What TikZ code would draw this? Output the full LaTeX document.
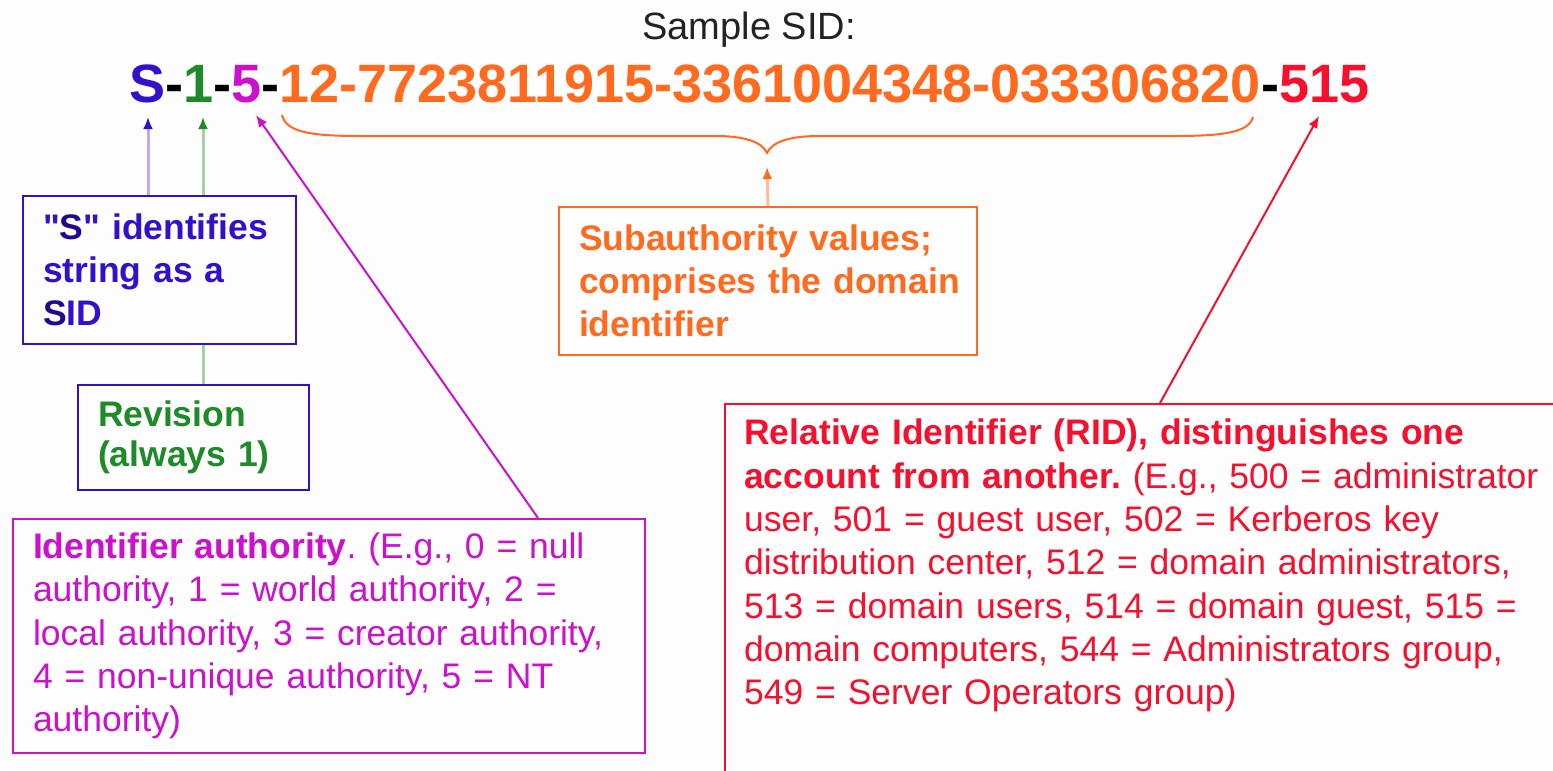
\documentclass[tikz,border=0pt]{standalone}
\usepackage{fontspec}
\setmainfont{Liberation Sans}
\usetikzlibrary{arrows.meta,calc}
\definecolor{sidblue}{HTML}{3311CC}
\definecolor{sidbluedark}{HTML}{22088F}
\definecolor{sidgreen}{HTML}{1E8A28}
\definecolor{sidmag}{HTML}{CC11CC}
\definecolor{sidorange}{HTML}{FF6A1F}
\definecolor{sidred}{HTML}{F5102E}
\definecolor{sidgray}{HTML}{222222}
\definecolor{bg}{HTML}{FDFDFD}
\tikzset{
  boxtext/.style={font=\fontsize{35.5}{42.7}\selectfont, align=left, inner xsep=20pt, inner ysep=0pt, line width=2pt, anchor=north west},
  widetext/.style={font=\fontsize{35.5}{43.3}\selectfont, align=left},
  lightarrow/.style={line width=3pt},
  thinarrow/.style={line width=2pt},
}
\begin{document}
\frenchspacing
\begin{tikzpicture}[x=1pt,y=-1pt]
\useasboundingbox (0,0) rectangle (1553,771);
\fill[bg] (0,0) rectangle (1553,771);
\begin{scope}
\clip (0,0) rectangle (1553,771);

% title and SID
\node[anchor=base, text=sidgray, font=\fontsize{38}{44}\selectfont, inner sep=0pt] (title) at (749,39) {Sample SID:};
\node[anchor=base west, font=\fontsize{54}{60}\selectfont\bfseries, inner sep=0pt] (sid) at (129,102)
  {\textcolor{sidblue}{S}-\textcolor{sidgreen}{1}-\textcolor{sidmag}{5}-\textcolor{sidorange}{12-7723811915-3361004348-033306820}-\textcolor{sidred}{515}};

% arrow tips and brace points
\coordinate (tipS) at (148,117);
\coordinate (tipOne) at (203,117);
\coordinate (tipFive) at (256,115);
\coordinate (tipSub) at (767,167);
\coordinate (tipRid) at (1319,116);
\coordinate (braceL) at (282,115);
\coordinate (braceM) at (767,153);
\coordinate (braceR) at (1253,117);

% boxes
\node[boxtext, draw=sidblue, text=sidblue, minimum width=273pt, minimum height=148pt, text width=233pt] (sbox) at (22,195)
  {\bfseries \textquotedbl\textcolor{sidbluedark}{S}\textquotedbl{} identifies\\ string as a\\ \textcolor{sidbluedark}{S}ID};
\node[boxtext, draw=sidblue, text=sidgreen, minimum width=231pt, minimum height=105pt, text width=191pt,
      font=\fontsize{35.5}{40}\selectfont\bfseries] (rev) at (77,384)
  {Revision\\ (always 1)};
\node[boxtext, draw=sidorange, text=sidorange, minimum width=418pt, minimum height=148pt, text width=378pt] (sub) at (558,206)
  {\bfseries \mbox{Subauthority values;}\\ \mbox{comprises the domain}\\ identifier};
\node[boxtext, draw=sidmag, text=sidmag, minimum width=632pt, minimum height=234pt, text width=592pt,
      font=\fontsize{35.5}{43.3}\selectfont] (auth) at (12,518)
  {\textbf{Identifier authority}. (E.g., 0 = null\\ authority, 1 = world authority, 2 =\\ \mbox{local authority, 3 = creator authority,}\\ 4 = non-unique authority, 5 = NT\\ authority)};
\node[draw=sidred, line width=2pt, anchor=north west, minimum width=900pt, minimum height=500pt, inner sep=0pt] (rid) at (724,403) {};
\node[widetext, text=sidred, anchor=north west, inner sep=0pt, text width=820pt] (ridtext) at (744,419)
  {\textbf{Relative Identifier (RID), distinguishes one}\\ \textbf{account from another.} (E.g., 500 = administrator\\ user, 501 = guest user, 502 = Kerberos key\\ distribution center, 512 = domain administrators,\\ 513 = domain users, 514 = domain guest, 515 =\\ domain computers, 544 = Administrators group,\\ 549 = Server Operators group)};

% connectors
\draw[lightarrow, draw=sidblue!35, -{Latex[length=12pt,width=10pt,color=sidblue]}] (sbox.north -| tipS) -- (tipS);
\draw[lightarrow, draw=sidgreen!40, -{Latex[length=12pt,width=10pt,color=sidgreen]}] (sbox.north -| tipOne) -- (tipOne);
\draw[lightarrow, draw=sidgreen!40] (sbox.south -| tipOne) -- (rev.north -| tipOne);
\draw[thinarrow, draw=sidmag, -{Latex[length=12pt,width=10pt]}] ([xshift=209pt]auth.north) -- (tipFive);
\draw[lightarrow, draw=sidorange!45, -{Latex[length=12pt,width=10pt,color=sidorange]}] (sub.north) -- (tipSub);
\draw[thinarrow, draw=sidred, -{Latex[length=12pt,width=10pt]}] ([xshift=436pt]rid.north west) -- (tipRid);
\draw[line width=2pt, draw=sidorange] (braceL) .. controls (286,132) and (310,136) .. (360,136) -- (715,136)
  .. controls (745,136) and (762,142) .. (braceM)
  .. controls (772,142) and (789,136) .. (819,136) -- (1175,136)
  .. controls (1225,136) and (1249,132) .. (braceR);
\end{scope}
\end{tikzpicture}
\end{document}
